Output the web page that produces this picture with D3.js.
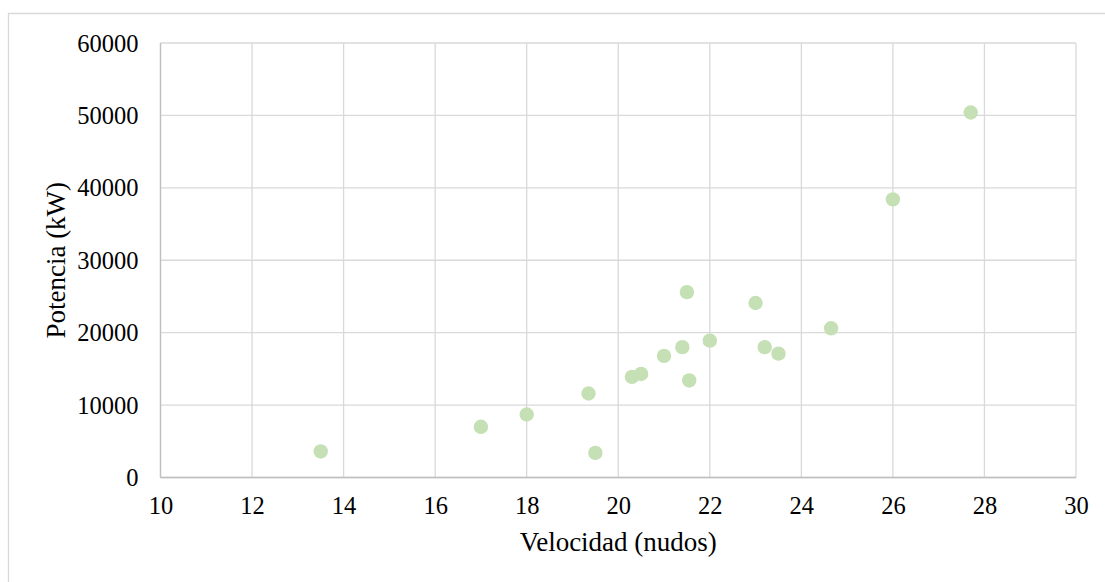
<!DOCTYPE html>
<html>
<head>
<meta charset="utf-8">
<script src="https://cdn.jsdelivr.net/npm/d3@7"></script>
<style>
  html, body { margin: 0; padding: 0; background: #fff; }
  svg { display: block; }
  text { font-family: "Liberation Serif", "Times New Roman", serif; fill: #000; }
</style>
</head>
<body>
<svg id="chart" width="1105" height="582"></svg>
<script>
// Velocidad (nudos) y potencia (kW) de cada buque
const velocidad = [13.5, 17.0, 18.0, 19.35, 19.5, 20.3, 20.5, 21.0, 21.4, 21.5, 21.55, 22.0, 23.0, 23.2, 23.5, 24.65, 26.0, 27.7];
const potencia  = [3600, 7000, 8700, 11600, 3400, 13900, 14300, 16800, 18000, 25600, 13400, 18900, 24100, 18000, 17100, 20600, 38400, 50400];

const xTicks = [10, 12, 14, 16, 18, 20, 22, 24, 26, 28, 30];
const yTicks = [0, 10000, 20000, 30000, 40000, 50000, 60000];

const svg = d3.select("#chart");
const plot = { left: 160.5, right: 1076, top: 43, bottom: 477.5 };

const x = d3.scaleLinear().domain([10, 30]).range([plot.left, plot.right]);
const y = d3.scaleLinear().domain([0, 60000]).range([plot.bottom, plot.top]);

// Chart area frame (top and left edges)
svg.append("path")
  .attr("d", "M8.5,582 L8.5,13.5 L1105,13.5")
  .attr("fill", "none").attr("stroke", "#d9d9d9").attr("stroke-width", 1.3);

// Grid lines
const grid = svg.append("g");
grid.selectAll("line.v").data(xTicks).join("line").attr("class", "v")
  .attr("x1", d => x(d)).attr("x2", d => x(d))
  .attr("y1", plot.top).attr("y2", plot.bottom)
  .attr("stroke", "#d9d9d9").attr("stroke-width", 1.3);
grid.selectAll("line.h").data(yTicks).join("line").attr("class", "h")
  .attr("x1", plot.left).attr("x2", plot.right)
  .attr("y1", d => y(d)).attr("y2", d => y(d))
  .attr("stroke", "#d9d9d9").attr("stroke-width", 1.3);

// Axis lines
svg.append("line").attr("x1", plot.left).attr("x2", plot.right).attr("y1", plot.bottom).attr("y2", plot.bottom)
  .attr("stroke", "#bfbfbf").attr("stroke-width", 1.3);
svg.append("line").attr("x1", plot.left).attr("x2", plot.left).attr("y1", plot.top).attr("y2", plot.bottom)
  .attr("stroke", "#bfbfbf").attr("stroke-width", 1.3);

// Axis tick labels
const xAxis = svg.append("g").attr("transform", `translate(0,${plot.bottom})`)
  .call(d3.axisBottom(x).tickValues(xTicks).tickSize(0).tickPadding(0).tickFormat(d3.format("d")));
xAxis.select(".domain").remove();
xAxis.selectAll("text").attr("dy", null).attr("y", 36).style("font-size", "24.5px");

const yAxis = svg.append("g").attr("transform", `translate(${plot.left},0)`)
  .call(d3.axisLeft(y).tickValues(yTicks).tickSize(0).tickPadding(0).tickFormat(d3.format("d")));
yAxis.select(".domain").remove();
yAxis.selectAll("text").attr("x", -22).attr("dy", "0.33em").style("font-size", "24.5px");
svg.selectAll(".tick text").style("font-family", "'Liberation Serif', 'Times New Roman', serif").attr("fill", "#000");

// Points
svg.append("g").selectAll("circle").data(velocidad.map((v, i) => [v, potencia[i]])).join("circle")
  .attr("cx", d => x(d[0])).attr("cy", d => y(d[1]))
  .attr("r", 7.2).attr("fill", "#c5e0b4");

// Axis titles
svg.append("text").attr("x", (plot.left + plot.right) / 2).attr("y", 551)
  .attr("text-anchor", "middle").style("font-size", "27px").text("Velocidad (nudos)");
svg.append("text").attr("transform", `translate(65,${(plot.top + plot.bottom) / 2}) rotate(-90)`)
  .attr("text-anchor", "middle").style("font-size", "27px").text("Potencia (kW)");
</script>
</body>
</html>
